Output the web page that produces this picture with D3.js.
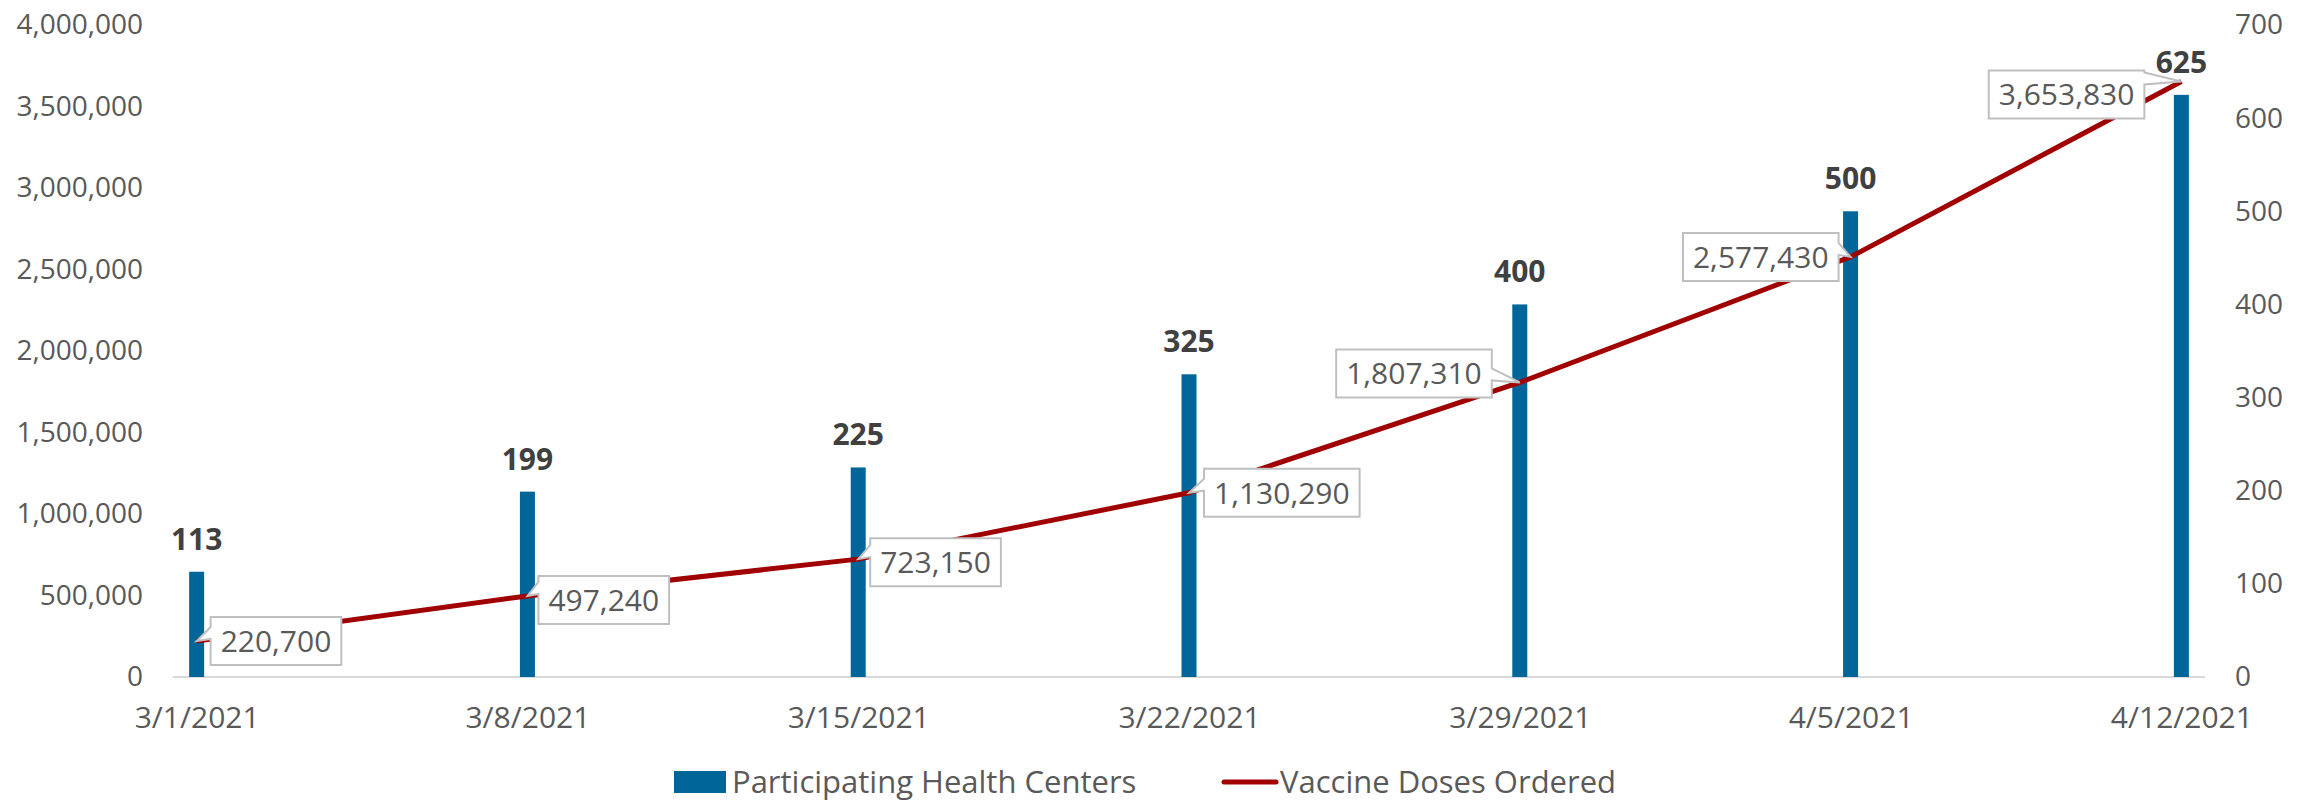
<!DOCTYPE html>
<html>
<head>
<meta charset="utf-8">
<script src="https://cdn.jsdelivr.net/npm/d3@7"></script>
<style>
  body { margin: 0; background: #fff; }
  svg text { font-family: "Open Sans", sans-serif; }
</style>
</head>
<body>
<script>
// chart data
var dates = ["2021-03-01", "2021-03-08", "2021-03-15", "2021-03-22", "2021-03-29", "2021-04-05", "2021-04-12"];
var dateLabels = ["3/1/2021", "3/8/2021", "3/15/2021", "3/22/2021", "3/29/2021", "4/5/2021", "4/12/2021"];
var centers = [113, 199, 225, 325, 400, 500, 625];
var doses = [220700, 497240, 723150, 1130290, 1807310, 2577430, 3653830];
var leftTicks = [0, 500000, 1000000, 1500000, 2000000, 2500000, 3000000, 3500000, 4000000];
var rightTicks = [0, 100, 200, 300, 400, 500, 600, 700];

// where each dose callout sits relative to its point
var calloutSide = ["r", "r", "r", "r", "l", "l", "l"];
var calloutGap = [14, 11, 12, 15, 28, 12, 37];
var calloutDy = [0, 4, 3, 0, -9, 0, 13];

var W = 2311, H = 803;
var plot = {left: 173, right: 2205, top: 25, bottom: 677};

var svg = d3.select("body").append("svg")
  .attr("width", W)
  .attr("height", H);

var parse = d3.timeParse("%Y-%m-%d");
var days = dates.map(parse);

// date axis: each day is one unit, bars sit in the middle of their day
var x = d3.scaleTime()
  .domain([d3.timeHour.offset(days[0], -12), d3.timeHour.offset(days[days.length - 1], 12)])
  .range([plot.left, plot.right]);
var yL = d3.scaleLinear().domain([0, 4000000]).range([plot.bottom, plot.top]);
var yR = d3.scaleLinear().domain([0, 700]).range([plot.bottom, plot.top]);

var fmt = d3.format(",");

// left axis
var gL = svg.append("g")
  .attr("transform", "translate(" + plot.left + ",0)")
  .call(d3.axisLeft(yL).tickValues(leftTicks).tickSize(0).tickPadding(30).tickFormat(fmt));
// right axis
var gR = svg.append("g")
  .attr("transform", "translate(" + plot.right + ",0)")
  .call(d3.axisRight(yR).tickValues(rightTicks).tickSize(0).tickPadding(30));
// bottom axis
var gB = svg.append("g")
  .attr("transform", "translate(0," + plot.bottom + ")")
  .call(d3.axisBottom(x).tickValues(days).tickSize(0).tickPadding(30)
    .tickFormat(function(d, i) { return dateLabels[i]; }));

[gL, gR, gB].forEach(function(g) {
  g.select(".domain").remove();
  g.selectAll("text")
    .attr("fill", "#595959")
    .style("font-size", "28px")
    .style("font-family", "'Open Sans', sans-serif");
});
gB.selectAll("text").style("font-size", "30px");

svg.append("line")
  .attr("x1", plot.left).attr("x2", plot.right)
  .attr("y1", plot.bottom).attr("y2", plot.bottom)
  .attr("stroke", "#D9D9D9")
  .attr("stroke-width", 2);

// bars
var barW = 15;
svg.selectAll("rect.bar")
  .data(centers)
  .enter().append("rect")
  .attr("class", "bar")
  .attr("x", function(d, i) { return x(days[i]) - barW / 2; })
  .attr("y", function(d) { return yR(d); })
  .attr("width", barW)
  .attr("height", function(d) { return plot.bottom - yR(d); })
  .attr("fill", "#006699");

// bar labels
svg.selectAll("text.barlab")
  .data(centers)
  .enter().append("text")
  .attr("class", "barlab")
  .attr("x", function(d, i) { return x(days[i]); })
  .attr("y", function(d) { return yR(d) - 22; })
  .attr("text-anchor", "middle")
  .attr("fill", "#404040")
  .style("font-size", "30px")
  .style("font-weight", "bold")
  .text(function(d) { return d; });

// line
var line = d3.line()
  .x(function(d, i) { return x(days[i]); })
  .y(function(d) { return yL(d); });

svg.append("path")
  .datum(doses)
  .attr("d", line)
  .attr("fill", "none")
  .attr("stroke", "#A00000")
  .attr("stroke-width", 5)
  .attr("stroke-linejoin", "round");

// callouts for doses
var pad = 10, boxH = 48;
doses.forEach(function(v, i) {
  var px = x(days[i]), py = yL(v);
  var g = svg.append("g");
  var path = g.append("path");
  var t = g.append("text")
    .attr("fill", "#595959")
    .style("font-size", "30px")
    .text(fmt(v));
  var tw = t.node().getComputedTextLength();
  var bw = tw + pad * 2;
  var cy = py + calloutDy[i];
  var top = cy - boxH / 2, bot = cy + boxH / 2;
  var left, right;
  if (calloutSide[i] === "r") {
    left = px + calloutGap[i]; right = left + bw;
  } else {
    right = px - calloutGap[i]; left = right - bw;
  }
  var y1 = Math.min(Math.max(py - 14, top + 2), bot - 14);
  var y2 = Math.min(y1 + 12, bot - 2);
  var d;
  if (calloutSide[i] === "r") {
    d = "M" + left + "," + top + "H" + right + "V" + bot + "H" + left +
      "V" + y2 + "L" + px + "," + py + "L" + left + "," + y1 + "Z";
  } else {
    d = "M" + left + "," + top + "H" + right + "V" + y1 +
      "L" + px + "," + py + "L" + right + "," + y2 + "V" + bot + "H" + left + "Z";
  }
  path.attr("d", d)
    .attr("fill", "#fff")
    .attr("stroke", "#BFBFBF")
    .attr("stroke-width", 2);
  t.attr("x", left + pad).attr("y", cy + 11);
});

// legend
var leg = svg.append("g");
leg.append("rect")
  .attr("x", 674).attr("y", 771)
  .attr("width", 52).attr("height", 22)
  .attr("fill", "#006699");
leg.append("text")
  .attr("x", 732).attr("y", 793)
  .attr("fill", "#595959")
  .style("font-size", "31px")
  .text("Participating Health Centers");
leg.append("line")
  .attr("x1", 1224).attr("x2", 1276)
  .attr("y1", 782).attr("y2", 782)
  .attr("stroke", "#A00000")
  .attr("stroke-width", 5)
  .attr("stroke-linecap", "round");
leg.append("text")
  .attr("x", 1280).attr("y", 793)
  .attr("fill", "#595959")
  .style("font-size", "31px")
  .text("Vaccine Doses Ordered");
</script>
</body>
</html>
